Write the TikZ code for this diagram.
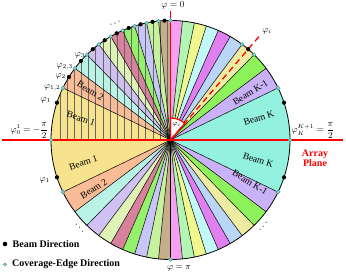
\documentclass[tikz,border=0pt]{standalone}
\usepackage{amsmath}
\usepackage{amssymb}
\usepackage{fontspec}
\setmainfont{Liberation Serif}
\usepackage{tikz}
\usetikzlibrary{calc}
\definecolor{beamA}{HTML}{F7E38E}
\definecolor{beamB}{HTML}{F9BC96}
\definecolor{beamC}{HTML}{B9F3E6}
\definecolor{beamD}{HTML}{CFC2F2}
\definecolor{beamE}{HTML}{DEF3B5}
\definecolor{beamF}{HTML}{D8819C}
\definecolor{beamG}{HTML}{95F06A}
\definecolor{beamH}{HTML}{C6C6FA}
\definecolor{beamI}{HTML}{C6F29E}
\definecolor{beamJ}{HTML}{C6AE8C}
\definecolor{beamK}{HTML}{F7A0F2}
\definecolor{beamL}{HTML}{B3F5B3}
\definecolor{beamM}{HTML}{EFF78E}
\definecolor{beamN}{HTML}{C3F8F8}
\definecolor{beamO}{HTML}{E07FF0}
\definecolor{beamP}{HTML}{B9D6F8}
\definecolor{beamQ}{HTML}{EEEBA2}
\definecolor{beamR}{HTML}{8EF25A}
\definecolor{beamS}{HTML}{CAB2F8}
\definecolor{beamT}{HTML}{93F2DF}
\definecolor{edgecyan}{HTML}{86DDD2}
\definecolor{edgerim}{HTML}{3F8F88}

\begin{document}
\begin{tikzpicture}[x=1pt,y=1pt,>=stealth,
  ray/.style={black,line width=0.5pt},
  hatch/.style={black!60,line width=0.3pt},
  cdot/.style={fill=edgecyan,draw=edgerim,line width=0.4pt},
  beamlbl/.style={font=\fontsize{9.5}{10}\selectfont,inner sep=0pt},
  philbl/.style={font=\small,inner sep=0pt}]
  \useasboundingbox (-170.5,-135) rectangle (175.5,140);
  \def\R{119.5}
  \coordinate (O) at (0,0);
  \foreach \k in {0,...,20} {
    \pgfmathsetmacro{\t}{90+asin((10-\k)/10)}
    \coordinate (U\k) at (\t:\R);
    \coordinate (L\k) at (-\t:\R);
  }
  \foreach \k in {1,...,20} {
    \pgfmathsetmacro{\t}{90+asin((10.5-\k)/10)}
    \coordinate (D\k) at (\t:\R);
    \coordinate (E\k) at (-\t:\R);
  }
  \foreach \k/\c in {1/beamA,2/beamB,3/beamC,4/beamD,5/beamE,6/beamF,7/beamG,8/beamH,9/beamI,10/beamJ,
                     11/beamK,12/beamL,13/beamM,14/beamN,15/beamO,16/beamP,17/beamQ,18/beamR,19/beamS,20/beamT} {
    \pgfmathsetmacro{\ta}{90+asin((11-\k)/10)}
    \pgfmathsetmacro{\tb}{90+asin((10-\k)/10)}
    \fill[\c] (O) -- (\ta:\R) arc[start angle=\ta,end angle=\tb,radius=\R pt] -- cycle;
    \fill[\c] (O) -- (-\ta:\R) arc[start angle=-\ta,end angle=-\tb,radius=\R pt] -- cycle;
  }
  \begin{scope}
    \clip (O) -- (U0) arc[start angle=180,end angle=90,radius=\R pt] -- cycle;
    \foreach \k in {0,...,15} \draw[hatch] ({-110.5+7.13*\k},0) -- ++(0,\R);
  \end{scope}
  \foreach \k in {0,...,20} \draw[ray] (O) -- (U\k) (O) -- (L\k);
  \draw[line width=0.8pt] (O) circle[radius=\R pt];

  \coordinate (PL) at (-168.5,0);
  \coordinate (PR) at (172.5,0);
  \coordinate (Z) at (0,129);
  \coordinate (Ti) at (49.46:140);
  \draw[red,line width=2pt] (PL) -- (PR);
  \draw[red,line width=1.3pt] (O) -- (Z);
  \filldraw[fill=white,draw=red,line width=1.2pt] (O) -- (90:22) arc[start angle=90,end angle=49.46,radius=22pt] -- cycle;
  \draw[red,line width=1.3pt,dash pattern=on 6pt off 4pt] (O) -- (Ti);

  \foreach \k in {0,...,10} \filldraw[cdot] (U\k) circle (1.9pt);
  \foreach \k in {16,17,19,20} \filldraw[cdot] (U\k) circle (1.9pt);
  \foreach \k in {1,10,19} \filldraw[cdot] (L\k) circle (1.9pt);
  \foreach \k in {1,...,10} \fill (D\k) circle (2.1pt);
  \foreach \k in {17,20} \fill (D\k) circle (2.1pt);
  \foreach \k in {1,20} \fill (E\k) circle (2.1pt);

  \node[beamlbl,rotate=-18.2] (b1u) at (166.5:92) {Beam 1};
  \node[beamlbl,rotate=-31.8] (b2u) at (148.5:94) {Beam 2};
  \node[beamlbl,rotate=18.2]  (b1l) at (194.5:90) {Beam 1};
  \node[beamlbl,rotate=31.8]  (b2l) at (212.5:91) {Beam 2};
  \node[beamlbl,rotate=31.8]  (bk1u) at (30.8:93) {Beam K-1};
  \node[beamlbl,rotate=18.2]  (bku) at (14:91) {Beam K};
  \node[beamlbl,rotate=-18.2] (bkl) at (-13:90) {Beam K};
  \node[beamlbl,rotate=-31.8] (bk1l) at (-28:90) {Beam K-1};

  \node[philbl] (p0) at (2.5,134.5) {$\varphi=0$};
  \node[philbl] (ppi) at (8.5,-128) {$\varphi=\pi$};
  \node[philbl,anchor=east] (pl0) at (-122,9) {$\varphi_0^1=-\dfrac{\pi}{2}$};
  \node[philbl,anchor=west] (pr0) at (121,9) {$\varphi_K^{K+1}=\dfrac{\pi}{2}$};
  \node[philbl,anchor=east] (p1u) at ($(D1)+(-6,2)$) {$\varphi_1$};
  \node[philbl,anchor=east] (p12) at ($(U1)+(-2.5,0)$) {$\varphi_{1,2}$};
  \node[philbl,anchor=east] (p2) at ($(D2)+(-3,1)$) {$\varphi_2$};
  \node[philbl,anchor=east] (p23) at ($(U2)+(-2,2)$) {$\varphi_{2,3}$};
  \node[philbl,anchor=south] (p3) at ($(D3)+(-1,3)$) {$\varphi_3$};
  \node[philbl,anchor=east] (p1l) at ($(E1)+(-7,-3)$) {$\varphi_1$};
  \node[philbl] (pi) at (96.5,109) {$\varphi_i$};
  \node[philbl,font=\scriptsize] (piw) at (6,15) {$\varphi_i$};

  \node[rotate=25] (el1) at (115:129) {$\cdots$};
  \node[rotate=-45] (el2) at (224.5:127) {$\cdots$};
  \node[rotate=47] (el3) at (-42.6:127) {$\cdots$};

  \node[red,font=\bfseries\fontsize{10}{10}\selectfont,align=center] (ap) at (144.5,-18) {Array\\Plane};

  \fill (-165.5,-104) circle (2.3pt);
  \node[font=\bfseries,anchor=west,inner sep=0pt] (lg1) at (-158,-104) {Beam Direction};
  \filldraw[cdot] (-165.5,-124.5) circle (1.7pt);
  \node[font=\bfseries,anchor=west,inner sep=0pt] (lg2) at (-158.5,-124.5) {Coverage-Edge Direction};
\end{tikzpicture}
\end{document}
